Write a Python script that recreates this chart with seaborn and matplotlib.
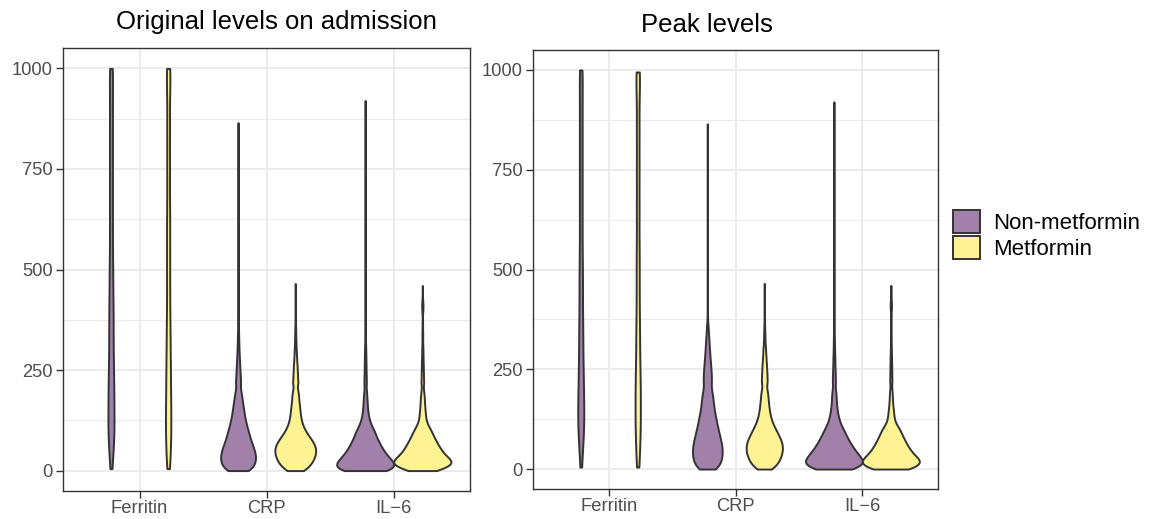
import numpy as np
import pandas as pd
import seaborn as sns
import matplotlib.pyplot as plt
from matplotlib.patches import Patch
from matplotlib.ticker import FixedLocator


#%% Data
markers = ["Ferritin", "CRP", "IL\u22126"]
groups = ["Non-metformin", "Metformin"]

low_grid = [0, 10, 20, 30, 40, 50, 60, 70, 80, 90, 100,
            110, 120, 130, 140, 150, 160, 170, 180, 190, 200,
            220, 240, 260, 280, 300, 320, 340, 360]
ferritin_grid = [5, 50, 100, 150, 200, 250, 300, 350, 400, 450,
                 500, 550, 600, 650, 700, 750, 800, 850, 900, 950]

# --- original levels on admission
ferr_non_adm_counts = [2, 6, 9, 8, 8, 7, 6, 6, 6, 5, 5, 4, 4, 4, 4, 4, 4, 4, 4, 4]
ferr_non_adm_tail = [1000, 1000, 1000, 1000, 1000]
ferr_met_adm_counts = [3, 6, 7, 7, 6, 6, 5, 5, 4, 4, 4, 4, 4, 4, 3, 4, 3, 4, 3, 4]
ferr_met_adm_tail = [1000, 1000, 1000, 1000, 1000, 1000]

crp_non_adm_counts = [35, 43, 45, 46, 46, 43, 39, 35, 31, 29, 26,
                      23, 20, 18, 16, 15, 13, 12, 10, 9, 8,
                      14, 11, 9, 7, 5, 4, 3, 2]
crp_non_adm_tail = [400, 450, 520, 600, 700, 780, 865]
crp_met_adm_counts = [28, 41, 50, 56, 60, 62, 60, 54, 46, 37, 29,
                      24, 19, 17, 15, 14, 13, 11, 10, 10, 9,
                      16, 13, 11, 8, 6, 4, 3, 2]
crp_met_adm_tail = [395, 430, 465]

il6_non_adm_counts = [119, 122, 115, 99, 83, 73, 63, 55, 47, 41, 36,
                      26, 19, 15, 12, 10, 9, 8, 7, 6, 6,
                      10, 8, 7, 6, 5, 3, 2, 1]
il6_non_adm_tail = [420, 480, 550, 620, 700, 780, 850, 920]
il6_met_adm_counts = [60, 111, 133, 111, 92, 79, 69, 60, 51, 43, 36,
                      26, 17, 14, 13, 11, 10, 9, 8, 7, 6,
                      11, 9, 8, 6, 5, 3, 3, 2]
il6_met_adm_tail = [375, 392, 405, 405, 405, 405, 405, 420, 420, 420, 440, 460]

# --- peak levels
ferr_non_peak_counts = [2, 5, 9, 9, 8, 7, 6, 6, 5, 5, 5, 4, 4, 4, 4, 4, 4, 4, 4, 4]
ferr_non_peak_tail = [1000, 1000, 1000, 1000, 1000]
ferr_met_peak_counts = [3, 5, 7, 7, 7, 6, 5, 5, 4, 4, 4, 4, 3, 4, 3, 4, 3, 4, 3, 4]
ferr_met_peak_tail = [995, 995, 995, 995, 995, 995]

crp_non_peak_counts = [22, 27, 29, 30, 31, 31, 30, 28, 26, 24, 22,
                       20, 19, 17, 15, 14, 13, 12, 11, 11, 10,
                       18, 16, 14, 11, 9, 7, 5, 3]
crp_non_peak_tail = [390, 430, 480, 540, 620, 700, 790, 865]
crp_met_peak_counts = [22, 33, 40, 44, 48, 49, 49, 46, 41, 36, 30,
                       25, 20, 17, 15, 13, 12, 11, 10, 9, 9,
                       16, 14, 12, 9, 7, 4, 3, 2]
crp_met_peak_tail = [390, 420, 445, 465]

il6_non_peak_counts = [85, 114, 114, 100, 87, 76, 66, 57, 49, 42, 36,
                       26, 21, 17, 14, 12, 10, 9, 9, 8, 7,
                       12, 10, 8, 7, 5, 4, 3, 2]
il6_non_peak_tail = [420, 480, 550, 620, 700, 780, 850, 920]
il6_met_peak_counts = [86, 118, 127, 106, 90, 78, 67, 59, 51, 43, 37,
                       24, 16, 13, 12, 10, 8, 7, 6, 6, 5,
                       9, 8, 7, 6, 4, 3, 2, 2]
il6_met_peak_tail = [375, 392, 405, 405, 405, 405, 405, 420, 420, 420, 440, 460]


def build_frame(parts):
    rows = []
    for marker, group, grid, counts, tail in parts:
        vals = np.concatenate([np.repeat(grid, counts), tail])
        rows.append(pd.DataFrame({"marker": marker, "group": group, "value": vals}))
    return pd.concat(rows, ignore_index=True)


df_adm = build_frame([
    (markers[0], groups[0], ferritin_grid, ferr_non_adm_counts, ferr_non_adm_tail),
    (markers[0], groups[1], ferritin_grid, ferr_met_adm_counts, ferr_met_adm_tail),
    (markers[1], groups[0], low_grid, crp_non_adm_counts, crp_non_adm_tail),
    (markers[1], groups[1], low_grid, crp_met_adm_counts, crp_met_adm_tail),
    (markers[2], groups[0], low_grid, il6_non_adm_counts, il6_non_adm_tail),
    (markers[2], groups[1], low_grid, il6_met_adm_counts, il6_met_adm_tail),
])

df_peak = build_frame([
    (markers[0], groups[0], ferritin_grid, ferr_non_peak_counts, ferr_non_peak_tail),
    (markers[0], groups[1], ferritin_grid, ferr_met_peak_counts, ferr_met_peak_tail),
    (markers[1], groups[0], low_grid, crp_non_peak_counts, crp_non_peak_tail),
    (markers[1], groups[1], low_grid, crp_met_peak_counts, crp_met_peak_tail),
    (markers[2], groups[0], low_grid, il6_non_peak_counts, il6_non_peak_tail),
    (markers[2], groups[1], low_grid, il6_met_peak_counts, il6_met_peak_tail),
])


#%% Settings
Fig_Width = 11.56
Fig_Height = 5.19
DPI = 100

Colors = ["#A180AA", "#FEF392"]
EdgeColor = "#333333"
Edge_LineWidth = 1.4

FontName = "Liberation Sans"
FontSize_Title = 18.5
FontSize_TickLabel = 13.2
FontSize_Legend = 16

YTicks = [0, 250, 500, 750, 1000]
YMinor = [125, 375, 625, 875]
YLim = [-50, 1050]
XLim = [-0.6, 2.6]

# [left, bottom, width, height] in figure fractions
Axis_Left_Pos = [63.3 / 1156, 28.3 / 519, 406.7 / 1156, 442.4 / 519]
Axis_Right_Pos = [533.3 / 1156, 30.0 / 519, 405.0 / 1156, 439.0 / 519]

plt.rcParams["font.family"] = [FontName, "DejaVu Sans"]


#%% Plot
Fig = plt.figure(figsize=[Fig_Width, Fig_Height], dpi=DPI)


def draw_panel(ax, df):
    sns.violinplot(data=df, x="marker", y="value", hue="group",
                   order=markers, hue_order=groups, palette=Colors,
                   saturation=1, density_norm="count", common_norm=True,
                   cut=0, inner=None, width=0.9, bw_method=0.13,
                   gridsize=1500, linewidth=Edge_LineWidth,
                   linecolor=EdgeColor, legend=False, ax=ax)

    ax.set_xlim(XLim)
    ax.set_ylim(YLim)
    ax.set_yticks(YTicks)
    ax.yaxis.set_minor_locator(FixedLocator(YMinor))
    ax.set_xlabel("")
    ax.set_ylabel("")

    ax.set_axisbelow(True)
    ax.grid(True, which="major", color="#EBEBEB", linewidth=1.4)
    ax.grid(True, which="minor", axis="y", color="#EBEBEB", linewidth=0.8)

    for side in ["left", "right", "top", "bottom"]:
        ax.spines[side].set_color(EdgeColor)
        ax.spines[side].set_linewidth(1.0)

    ax.tick_params(which="major", length=4.8, width=1.0, color=EdgeColor,
                   labelcolor="#4D4D4D", labelsize=FontSize_TickLabel)
    ax.tick_params(axis="y", which="major", pad=3)
    ax.tick_params(axis="x", which="major", pad=2)
    ax.tick_params(which="minor", length=0)


ax1 = plt.axes(Axis_Left_Pos)
draw_panel(ax1, df_adm)

ax2 = plt.axes(Axis_Right_Pos)
draw_panel(ax2, df_peak)

# Titles
Fig.text(276 / 1156, 1 - 29.5 / 519, "Original levels on admission",
         ha="center", va="baseline", fontsize=FontSize_Title, color="black")
Fig.text(707 / 1156, 1 - 31.5 / 519, "Peak levels",
         ha="center", va="baseline", fontsize=FontSize_Title, color="black")

# Legend
handles = [Patch(facecolor=c, edgecolor=EdgeColor, linewidth=Edge_LineWidth, label=g)
           for c, g in zip(Colors, groups)]
Fig.legend(handles=handles, loc="upper left",
           bbox_to_anchor=(953 / 1156, 1 - 210 / 519),
           frameon=False, fontsize=FontSize_Legend,
           handlelength=1.22, handleheight=1.22, handletextpad=0.58,
           labelspacing=0.09, borderpad=0, borderaxespad=0)

plt.savefig("out.png", dpi=DPI)
